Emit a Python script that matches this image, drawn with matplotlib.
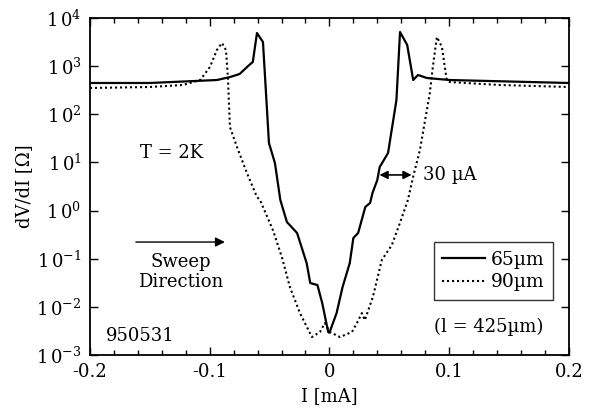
import numpy as np
import matplotlib
matplotlib.use('Agg')
import matplotlib.pyplot as plt
from matplotlib.ticker import FixedLocator, MultipleLocator

plt.rcParams['font.family'] = ['DejaVu Serif']
plt.rcParams['mathtext.fontset'] = 'dejavuserif'
plt.rcParams['axes.unicode_minus'] = False

# 65 um sample (solid)
i_65 = [-0.200, -0.150, -0.094, -0.083, -0.075, -0.067, -0.064, -0.0605, -0.0555,
        -0.0505, -0.0455, -0.041, -0.0355, -0.027, -0.019, -0.016, -0.010, -0.006,
        -0.001, 0.000, 0.006, 0.011, 0.017, 0.020, 0.024, 0.030, 0.034, 0.036,
        0.040, 0.042, 0.049, 0.056, 0.059, 0.065, 0.070, 0.074, 0.0815, 0.1006, 0.200]
r_65 = [447, 447, 515, 594, 687, 1056, 1219, 4880, 3170,
        25.3, 9.7, 1.66, 0.578, 0.342, 0.081, 0.0312, 0.0284, 0.012,
        0.0030, 0.0029, 0.0074, 0.0258, 0.081, 0.269, 0.342, 1.19, 1.44, 2.32,
        4.3, 8.0, 15.7, 198, 5120, 2750, 515, 655, 567, 515, 447]

# 90 um sample (dotted)
i_90 = [-0.200, -0.150, -0.1223, -0.108, -0.0998, -0.094, -0.0898, -0.0864, -0.0848,
        -0.0831, -0.0772, -0.0689, -0.0605, -0.058, -0.0472, -0.0397, -0.033, -0.0246,
        -0.0146, -0.0079, -0.0038, 0.0004, 0.0088, 0.0188, 0.023, 0.0271, 0.0296,
        0.0363, 0.0438, 0.0522, 0.0589, 0.0656, 0.0697, 0.0756, 0.0839, 0.0864,
        0.0898, 0.094, 0.098, 0.1006, 0.142, 0.200]
r_90 = [352, 369, 406, 515, 960, 2160, 3030, 2160, 594,
        54.4, 20.9, 6.03, 1.91, 1.66, 0.394, 0.108, 0.0258, 0.0074,
        0.00236, 0.0030, 0.0046, 0.0030, 0.00236, 0.0030, 0.0046, 0.0074, 0.0053,
        0.016, 0.094, 0.193, 0.552, 1.66, 4.74, 18.1, 277, 960,
        4030, 2500, 515, 468, 406, 369]

x_ticks = [-0.2, -0.1, 0, 0.1, 0.2]
x_labels = ['-0.2', '-0.1', '0', '0.1', '0.2']
y_exps = [-3, -2, -1, 0, 1, 2, 3, 4]

fig = plt.figure(figsize=(6, 4.15), dpi=100)
ax = fig.add_axes([0.15, 0.1446, 0.798, 0.812])

ax.plot(i_65, r_65, color='black', lw=1.6, label='65\u00b5m')
ax.plot(i_90, r_90, color='black', lw=1.5, linestyle=(0, (1, 1.4)), label='90\u00b5m')

ax.set_yscale('log')
ax.set_xlim(-0.2, 0.2)
ax.set_ylim(1e-3, 1e4)

ax.set_xticks(x_ticks)
ax.set_xticklabels(x_labels)
ax.xaxis.set_minor_locator(MultipleLocator(0.02))
ax.yaxis.set_major_locator(FixedLocator([10.0 ** e for e in y_exps]))
ax.yaxis.set_minor_locator(FixedLocator([]))
ax.set_yticklabels([r'$\mathregular{1\,0^{%d}}$' % e for e in y_exps])

ax.tick_params(which='both', direction='in', top=True, right=True, labelsize=13, width=1.0)
ax.tick_params(which='major', length=6, pad=6)
ax.tick_params(which='minor', length=3.5)
for s in ax.spines.values():
    s.set_linewidth(1.3)

ax.set_xlabel('I [mA]', fontsize=13, labelpad=4)
ax.set_ylabel('dV/dI [\u03a9]', fontsize=13, labelpad=2)

ax.text(-0.158, 16, 'T = 2K', fontsize=13, va='center', ha='left')
ax.annotate('', xy=(-0.085, 0.222), xytext=(-0.164, 0.222),
            arrowprops=dict(arrowstyle='-|>', color='black', lw=1.0, mutation_scale=14))
ax.text(-0.124, 0.052, 'Sweep\nDirection', fontsize=13, ha='center', va='center', linespacing=1.15)
ax.text(-0.187, 0.0025, '950531', fontsize=13, ha='left', va='center')
ax.annotate('', xy=(0.0395, 5.5), xytext=(0.071, 5.5),
            arrowprops=dict(arrowstyle='<|-|>', color='black', lw=1.2, mutation_scale=12))
ax.text(0.078, 5.5, '30 \u00b5A', fontsize=13, ha='left', va='center')
ax.text(0.133, 0.0038, '(l = 425\u00b5m)', fontsize=13, ha='center', va='center')

leg = ax.legend(loc='upper right', bbox_to_anchor=(0.967, 0.335), borderaxespad=0,
                fontsize=13.5, frameon=True, fancybox=False, handlelength=2.3,
                handletextpad=0.3, borderpad=0.45, labelspacing=0.25)
leg.get_frame().set_edgecolor('black')
leg.get_frame().set_linewidth(1.0)

fig.savefig('out.png', dpi=100)
